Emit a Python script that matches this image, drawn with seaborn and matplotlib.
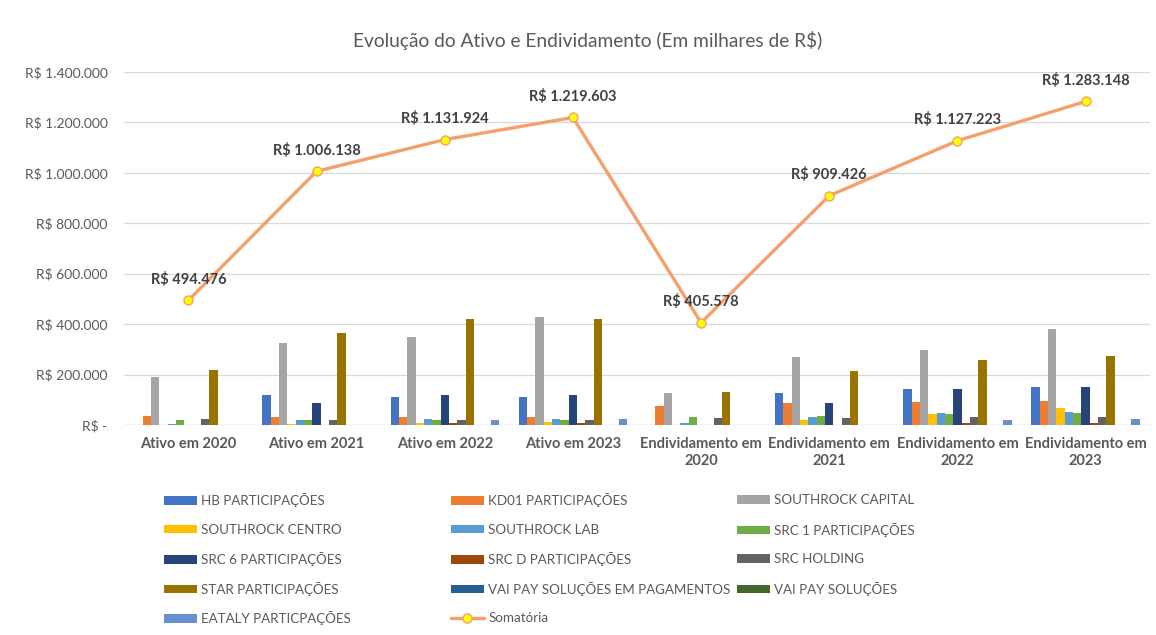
import pandas as pd
import numpy as np
import matplotlib
matplotlib.use("Agg")
import matplotlib.pyplot as plt
import matplotlib.ticker as mticker
from matplotlib.patches import Patch
from matplotlib.lines import Line2D
import seaborn as sns

# ── Data ───────────────────────────────────────────────────────────────────
categorias = [
    "Ativo em 2020", "Ativo em 2021", "Ativo em 2022", "Ativo em 2023",
    "Endividamento em\n2020", "Endividamento em\n2021",
    "Endividamento em\n2022", "Endividamento em\n2023",
]

empresas = [
    "HB PARTICIPAÇÕES", "KD01 PARTICIPAÇÕES", "SOUTHROCK CAPITAL",
    "SOUTHROCK CENTRO", "SOUTHROCK LAB", "SRC 1 PARTICIPAÇÕES",
    "SRC 6 PARTICIPAÇÕES", "SRC D PARTICIPAÇÕES", "SRC HOLDING",
    "STAR PARTICIPAÇÕES", "VAI PAY SOLUÇÕES EM PAGAMENTOS", "VAI PAY SOLUÇÕES",
    "EATALY PARTICPAÇÕES",
]

hb = [0, 119000, 110000, 112000, 0, 125000, 141000, 149000]
kd01 = [36000, 32000, 32000, 32000, 75000, 88000, 92000, 96000]
southrock_capital = [189000, 326000, 349000, 427000, 128000, 268000, 296000, 381000]
southrock_centro = [0, 5000, 8000, 12000, 0, 20000, 42000, 69000]
southrock_lab = [5000, 20000, 24000, 24000, 6000, 32000, 46000, 52000]
src1 = [18000, 20000, 20000, 20000, 32000, 36000, 42000, 46000]
src6 = [0, 88000, 119000, 119000, 0, 88000, 141000, 149000]
src_d = [0, 0, 6000, 8000, 0, 0, 6000, 8000]
src_holding = [24000, 20000, 20000, 20000, 29000, 29000, 32000, 32000]
star = [219000, 366000, 420000, 420000, 132000, 215000, 259000, 272000]
vai_pay_pag = [0, 0, 0, 0, 0, 0, 0, 0]
vai_pay = [0, 0, 0, 0, 0, 0, 0, 0]
eataly = [0, 0, 20000, 22000, 0, 0, 20000, 24000]

somatoria = [494476, 1006138, 1131924, 1219603, 405578, 909426, 1127223, 1283148]

cores = [
    "#4472C4", "#ED7D31", "#A5A5A5", "#FFC000", "#5B9BD5", "#70AD47",
    "#264478", "#9E480E", "#636363", "#997300", "#255E91", "#43682B",
    "#698ED0",
]

series = [hb, kd01, southrock_capital, southrock_centro, southrock_lab, src1,
          src6, src_d, src_holding, star, vai_pay_pag, vai_pay, eataly]

df = pd.DataFrame({
    "Categoria": np.repeat([categorias], len(empresas), axis=0).ravel(),
    "Empresa": np.repeat(empresas, len(categorias)),
    "Valor": np.concatenate(series),
})

# ── Style ──────────────────────────────────────────────────────────────────
sns.set_theme(style="white")
plt.rcParams["font.family"] = ["Lato", "DejaVu Sans"]
TXT = "#595959"
LINHA = "#F4A06A"

W, H = 1156, 635
fig = plt.figure(figsize=(W / 100, H / 100), dpi=100)
ax = fig.add_axes([124.3 / W, 1 - 425 / H, (1149.7 - 124.3) / W, (425 - 72) / H])

sns.barplot(data=df, x="Categoria", y="Valor", hue="Empresa",
            order=categorias, hue_order=empresas, palette=cores,
            saturation=1, width=0.845, linewidth=0, legend=False, ax=ax)

# Somatória line
x = np.arange(len(categorias))
ax.plot(x, somatoria, color=LINHA, lw=2.4, marker="o", ms=6.5,
        mfc="#FFFF00", mec=LINHA, mew=1.0, zorder=5)
for xi, v in zip(x, somatoria):
    ax.annotate(f"R$ {v:,.0f}".replace(",", "."), (xi, v), xytext=(0, 15),
                textcoords="offset points", ha="center", va="center",
                fontsize=10.5, fontweight="bold", color="#404040", zorder=6)

# Axes formatting
ax.set_ylim(0, 1400000)
ax.set_xlim(-0.5, len(categorias) - 0.5)
ax.yaxis.set_major_locator(mticker.MultipleLocator(200000))
ax.yaxis.set_major_formatter(mticker.FuncFormatter(
    lambda v, _: "R$ -" if v == 0 else f"R$ {v:,.0f}".replace(",", ".")))
ax.grid(axis="y", color="#D9D9D9", lw=0.9)
ax.set_axisbelow(True)
for s in ax.spines.values():
    s.set_visible(False)
ax.axhline(0, color="#D9D9D9", lw=1.0, zorder=0.5)
ax.tick_params(axis="y", length=0, pad=12, labelsize=10, labelcolor=TXT)
ax.tick_params(axis="x", length=0, pad=9, labelsize=10.5, labelcolor=TXT)
for lbl in ax.get_xticklabels():
    lbl.set_fontweight("bold")
    lbl.set_multialignment("center")
ax.set_xlabel("")
ax.set_ylabel("")

fig.text(588 / W, 1 - 40 / H, "Evolução do Ativo e Endividamento (Em milhares de R$)",
         ha="center", va="center", fontsize=13.8, color=TXT)

# ── Legend: grid of 3 columns, filled row by row like the original ─────────
handles = [Patch(facecolor=c, edgecolor="none") for c in cores]
handles.append(Line2D([], [], color=LINHA, lw=2.4, marker="o", ms=6.5,
                      mfc="#FFFF00", mec=LINHA))
labels = empresas + ["Somatória"]

col_x = [164, 450.7, 737]
row_y = [500, 529.6, 559.2, 588.8, 618.4]
for i, (h, l) in enumerate(zip(handles, labels)):
    r, c = divmod(i, 3)
    fig.legend([h], [l], loc="center left",
               bbox_to_anchor=(col_x[c] / W, 1 - row_y[r] / H),
               frameon=False, fontsize=9.6, labelcolor=TXT,
               handlelength=2.5, handleheight=0.6, handletextpad=0.3,
               borderpad=0, borderaxespad=0)

fig.savefig("out.png", dpi=100)
